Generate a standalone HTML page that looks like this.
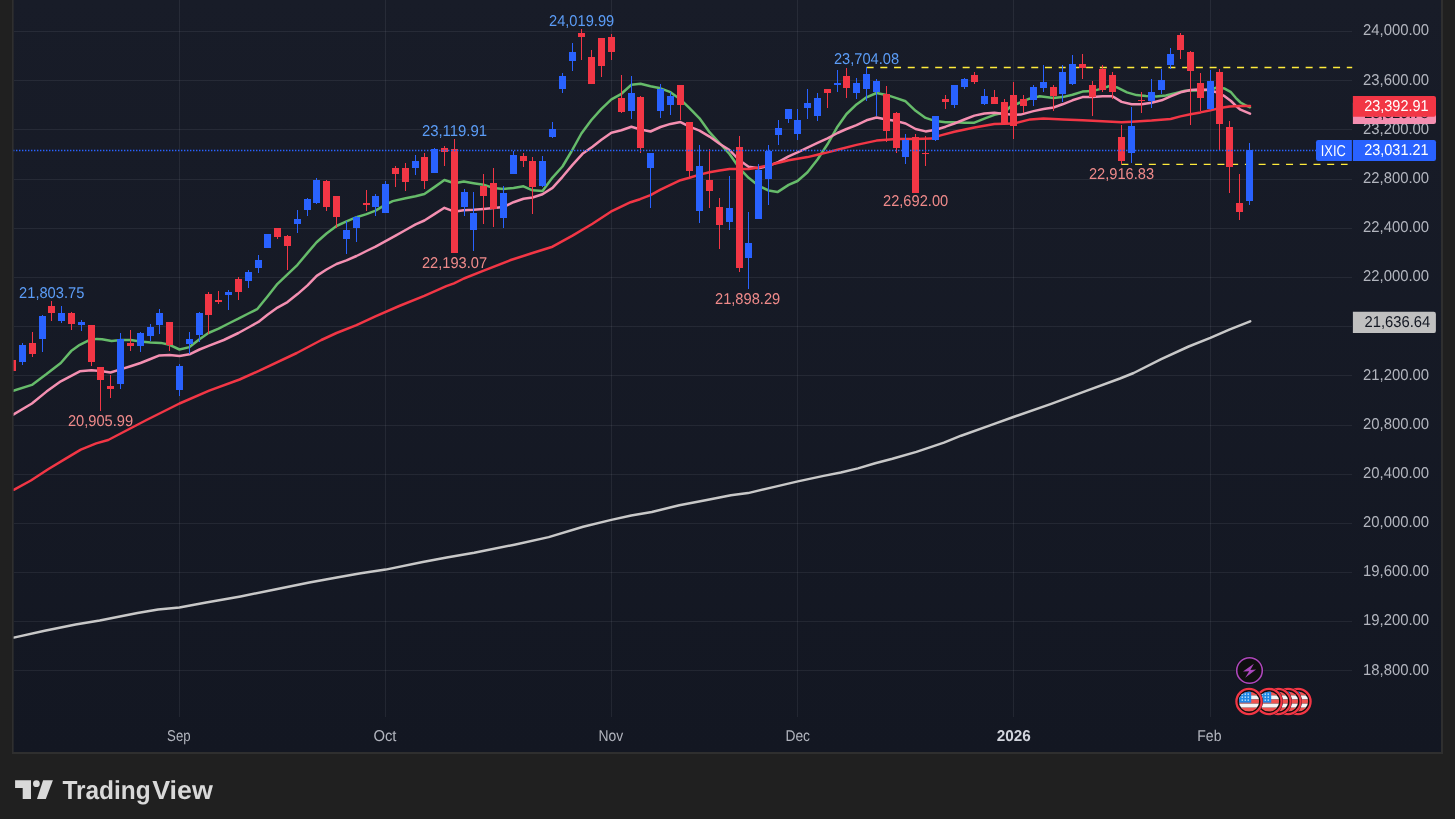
<!DOCTYPE html>
<html lang="en"><head><meta charset="utf-8"><title>IXIC chart</title>
<style>
html,body{margin:0;padding:0;background:#202020;}
body{width:1455px;height:819px;overflow:hidden;position:relative;font-family:"Liberation Sans",sans-serif;}
svg{position:absolute;left:0;top:0;display:block}
text{font-family:"Liberation Sans",sans-serif;text-rendering:geometricPrecision;}
</style></head><body>
<svg width="1455" height="819" viewBox="0 0 1455 819">
<defs>
<linearGradient id="bg" x1="0" y1="0" x2="0" y2="1"><stop offset="0" stop-color="#181c28"/><stop offset="1" stop-color="#131722"/></linearGradient>
<clipPath id="pane"><rect x="13.6" y="0" width="1338.4" height="717"/></clipPath>
<clipPath id="flagclip"><circle cx="0" cy="0" r="10.1"/></clipPath>
</defs>
<rect x="0" y="0" width="1455" height="819" fill="#202020"/>
<rect x="12" y="-2" width="1431" height="756.1" fill="#2f2f2f"/>
<rect x="13.6" y="0" width="1427.4" height="752" fill="url(#bg)"/>

<g shape-rendering="crispEdges" fill="rgba(240,243,250,0.07)">
<rect x="14" y="31" width="1338" height="1"/>
<rect x="14" y="80" width="1338" height="1"/>
<rect x="14" y="129" width="1338" height="1"/>
<rect x="14" y="179" width="1338" height="1"/>
<rect x="14" y="228" width="1338" height="1"/>
<rect x="14" y="277" width="1338" height="1"/>
<rect x="14" y="326" width="1338" height="1"/>
<rect x="14" y="375" width="1338" height="1"/>
<rect x="14" y="425" width="1338" height="1"/>
<rect x="14" y="474" width="1338" height="1"/>
<rect x="14" y="523" width="1338" height="1"/>
<rect x="14" y="572" width="1338" height="1"/>
<rect x="14" y="621" width="1338" height="1"/>
<rect x="14" y="670" width="1338" height="1"/>
<rect x="179" y="0" width="1" height="717"/>
<rect x="385" y="0" width="1" height="717"/>
<rect x="611" y="0" width="1" height="717"/>
<rect x="797" y="0" width="1" height="717"/>
<rect x="1013" y="0" width="1" height="717"/>
<rect x="1210" y="0" width="1" height="717"/>
</g>
<g stroke="#ffeb3b" stroke-width="1.3" stroke-dasharray="7 6.72" fill="none">
<path d="M866.6,67.5 H1352.2"/>
<path d="M1121.4,164.3 H1347.6"/>
</g>
<g clip-path="url(#pane)">
<g fill="none" stroke-width="2.5" stroke-linejoin="round" stroke-linecap="round">
<path d="M13.7,637.6 L44.7,630.7 L75.6,624.5 L99.7,620.4 L137.5,612.9 L158.1,609.4 L179.4,607.4 L206.2,602.5 L240.5,596.4 L274.9,589.5 L309.3,582.6 L336.8,577.5 L360.8,573.3 L385.6,569.6 L422.7,562.0 L446.7,557.5 L474.2,552.7 L514.4,544.7 L548.7,537.1 L583.1,526.8 L611.3,519.9 L631.2,515.5 L651.8,512.0 L679.3,505.2 L706.8,500.0 L730.9,495.2 L748.0,493.1 L775.5,486.6 L797.9,481.4 L823.6,475.9 L840.8,472.5 L858.0,468.4 L875.2,463.2 L892.4,458.8 L916.4,451.9 L943.9,442.6 L961.1,435.7 L989.4,425.6 L1013.4,417.0 L1051.2,403.9 L1085.6,391.2 L1120.0,378.5 L1133.7,373.0 L1161.2,359.2 L1188.7,346.5 L1210.3,337.9 L1229.9,329.3 L1250.2,321.3" stroke="#c8c8c8"/>
<path d="M13.2,390.8 L31.9,384.9 L46.5,374.1 L60.8,363.0 L71.1,351.1 L79.8,344.8 L87.8,340.8 L96.5,338.9 L102.0,339.2 L111.6,341.1 L121.1,340.0 L130.6,340.0 L140.5,341.6 L150.5,342.4 L160.8,342.9 L169.5,344.8 L179.5,349.5 L189.5,347.1 L199.5,339.2 L208.4,333.0 L218.6,328.7 L228.6,323.5 L238.4,318.7 L248.4,313.5 L257.1,309.2 L267.5,296.5 L277.5,283.8 L287.5,274.3 L297.5,264.8 L307.5,252.9 L316.6,242.2 L326.5,233.5 L336.5,226.0 L346.5,221.4 L356.5,217.2 L366.5,214.1 L375.6,210.6 L385.6,204.6 L392.7,201.1 L405.6,198.3 L415.6,196.3 L424.4,194.0 L434.4,187.1 L444.4,180.0 L454.4,183.2 L463.8,181.6 L473.5,183.2 L483.5,184.8 L493.5,187.9 L503.5,189.0 L513.5,187.9 L523.5,186.3 L532.5,190.3 L542.5,191.1 L552.5,177.6 L562.5,166.5 L571.4,151.5 L581.4,133.5 L591.4,120.0 L601.4,108.9 L611.4,99.4 L621.4,93.8 L631.4,84.8 L640.5,83.8 L650.5,86.3 L660.5,88.3 L670.5,92.2 L680.5,99.4 L689.5,108.1 L699.5,118.3 L709.5,132.2 L719.5,143.0 L729.5,154.0 L739.5,168.3 L748.6,177.8 L758.6,185.7 L768.6,190.5 L777.5,192.1 L788.6,184.9 L797.5,181.0 L807.5,172.2 L817.5,159.5 L827.5,144.3 L837.5,126.7 L846.5,114.0 L856.5,104.4 L866.5,97.3 L876.5,93.0 L886.5,94.9 L896.5,98.1 L905.6,101.3 L915.6,110.8 L925.6,117.9 L935.6,121.1 L945.6,122.2 L954.4,122.2 L964.4,122.7 L974.4,122.7 L984.4,118.7 L994.4,114.8 L1004.4,112.5 L1010.0,107.0 L1019.0,103.0 L1029.4,98.7 L1039.7,96.3 L1053.5,97.9 L1062.5,97.1 L1072.5,94.8 L1082.5,91.6 L1092.5,91.1 L1102.5,88.4 L1109.5,86.0 L1117.5,87.6 L1127.0,92.4 L1136.5,95.1 L1146.0,95.9 L1156.3,96.4 L1165.9,95.5 L1175.4,93.1 L1184.9,90.8 L1192.9,90.6 L1200.5,90.6 L1210.5,89.8 L1216.7,87.5 L1224.6,88.6 L1231.0,92.2 L1235.7,97.8 L1240.5,102.5 L1245.2,105.2 L1250.0,107.3" stroke="#66bb6a"/>
<path d="M13.2,414.6 L31.9,403.5 L46.5,391.6 L60.8,381.3 L79.8,371.3 L91.4,370.2 L100.5,371.0 L110.5,372.5 L120.5,369.4 L130.6,366.2 L140.5,363.0 L150.5,359.0 L159.5,355.4 L169.5,355.1 L179.5,355.9 L189.5,354.3 L199.5,349.5 L209.2,345.6 L223.8,340.0 L238.4,333.0 L248.4,327.5 L258.4,321.9 L267.5,314.8 L277.5,307.6 L287.5,302.1 L297.5,294.1 L307.5,285.4 L316.7,275.9 L326.5,269.5 L336.5,264.0 L346.5,260.4 L356.5,256.0 L366.5,251.0 L375.6,246.6 L385.6,241.1 L395.6,235.6 L405.6,230.0 L415.6,224.4 L424.4,220.5 L434.4,214.1 L444.4,207.8 L454.4,211.7 L463.3,210.2 L473.5,209.8 L483.5,208.9 L493.5,208.1 L503.5,207.0 L513.5,202.2 L523.5,198.7 L532.5,197.5 L542.5,194.3 L552.5,187.9 L562.5,176.8 L572.5,164.9 L582.5,153.8 L592.5,146.7 L601.4,139.8 L611.4,132.7 L621.4,130.3 L631.4,126.8 L640.5,129.5 L650.5,131.5 L660.5,127.0 L670.5,123.9 L680.5,122.1 L689.5,126.6 L699.5,130.6 L709.5,136.6 L719.5,143.7 L729.5,150.0 L739.5,160.3 L748.6,166.7 L758.6,168.3 L768.6,165.9 L778.6,161.9 L788.6,156.3 L797.5,152.4 L807.5,147.6 L817.5,142.9 L827.5,138.3 L837.5,133.0 L846.5,129.0 L856.5,125.1 L866.5,120.3 L876.5,117.5 L886.5,119.5 L896.5,121.1 L905.6,123.5 L915.6,129.0 L925.6,131.4 L935.6,129.8 L945.6,126.7 L954.4,123.5 L964.4,119.5 L974.4,115.6 L984.4,113.5 L994.4,112.7 L1004.4,114.0 L1013.5,114.8 L1020.6,114.6 L1033.5,111.1 L1043.5,109.0 L1053.5,107.5 L1062.5,104.3 L1072.5,100.3 L1082.5,97.1 L1092.5,97.1 L1102.5,96.3 L1112.5,96.3 L1121.6,101.9 L1131.6,104.3 L1141.6,104.3 L1151.6,102.8 L1161.6,100.3 L1170.6,96.3 L1180.6,92.3 L1190.6,90.0 L1197.6,89.5 L1207.1,89.8 L1216.7,92.2 L1224.6,96.2 L1231.0,101.0 L1235.7,105.7 L1240.5,109.7 L1245.2,111.7 L1250.0,113.7" stroke="#f48fb1"/>
<path d="M13.7,489.8 L30.9,480.5 L48.1,469.2 L65.3,458.9 L80.8,449.6 L96.2,443.4 L108.2,440.0 L146.5,420.0 L179.5,403.5 L209.2,390.6 L239.6,379.5 L259.4,370.7 L296.8,353.0 L321.4,340.0 L336.5,333.0 L356.5,325.1 L375.4,316.3 L399.2,306.0 L424.3,295.8 L446.3,286.2 L454.0,283.3 L463.9,278.5 L483.7,270.6 L510.0,260.3 L532.5,253.0 L552.5,246.7 L572.5,235.6 L592.5,223.7 L610.8,211.7 L630.6,202.2 L640.0,199.2 L650.5,195.2 L660.5,189.7 L670.5,184.9 L680.5,180.2 L689.5,177.8 L699.5,174.6 L709.5,172.2 L719.5,170.6 L729.5,169.0 L739.5,169.0 L748.6,169.0 L758.6,167.5 L768.6,165.1 L778.6,162.7 L788.6,160.3 L797.5,158.7 L807.5,157.1 L817.5,154.8 L827.5,152.4 L837.5,149.7 L856.5,144.9 L876.5,140.6 L896.5,138.9 L915.6,138.9 L931.1,138.6 L940.6,135.4 L954.4,131.7 L974.4,127.5 L994.4,124.0 L1013.5,123.6 L1030.2,119.4 L1043.5,118.6 L1063.5,119.4 L1082.5,120.2 L1102.5,121.3 L1121.6,122.2 L1131.6,121.7 L1151.6,120.6 L1170.6,119.0 L1180.4,116.4 L1190.5,114.3 L1200.5,112.4 L1210.5,110.2 L1219.8,108.1 L1229.5,106.5 L1239.5,106.0 L1250.0,106.0" stroke="#f23645"/>
</g>
<g shape-rendering="crispEdges">
<rect x="12" y="357" width="1" height="17" fill="#f23645"/><rect x="9" y="360" width="7" height="11" fill="#f23645"/>
<rect x="22" y="343" width="1" height="22" fill="#2962ff"/><rect x="19" y="345" width="7" height="17" fill="#2962ff"/>
<rect x="32" y="332" width="1" height="25" fill="#f23645"/><rect x="29" y="343" width="7" height="11" fill="#f23645"/>
<rect x="42" y="315" width="1" height="37" fill="#2962ff"/><rect x="39" y="316" width="7" height="23" fill="#2962ff"/>
<rect x="51" y="301" width="1" height="20" fill="#f23645"/><rect x="48" y="306" width="7" height="7" fill="#f23645"/>
<rect x="61" y="306" width="1" height="17" fill="#2962ff"/><rect x="58" y="313" width="7" height="8" fill="#2962ff"/>
<rect x="71" y="312" width="1" height="18" fill="#f23645"/><rect x="68" y="313" width="7" height="11" fill="#f23645"/>
<rect x="81" y="320" width="1" height="11" fill="#2962ff"/><rect x="78" y="322" width="7" height="3" fill="#2962ff"/>
<rect x="91" y="325" width="1" height="41" fill="#f23645"/><rect x="88" y="325" width="7" height="37" fill="#f23645"/>
<rect x="100" y="367" width="1" height="44" fill="#f23645"/><rect x="97" y="367" width="7" height="13" fill="#f23645"/>
<rect x="110" y="375" width="1" height="23" fill="#f23645"/><rect x="107" y="386" width="7" height="3" fill="#f23645"/>
<rect x="120" y="333" width="1" height="56" fill="#2962ff"/><rect x="117" y="339" width="7" height="45" fill="#2962ff"/>
<rect x="130" y="330" width="1" height="21" fill="#f23645"/><rect x="127" y="343" width="7" height="3" fill="#f23645"/>
<rect x="140" y="332" width="1" height="20" fill="#2962ff"/><rect x="137" y="333" width="7" height="13" fill="#2962ff"/>
<rect x="150" y="324" width="1" height="17" fill="#2962ff"/><rect x="147" y="327" width="7" height="9" fill="#2962ff"/>
<rect x="159" y="309" width="1" height="25" fill="#2962ff"/><rect x="156" y="313" width="7" height="12" fill="#2962ff"/>
<rect x="169" y="322" width="1" height="29" fill="#f23645"/><rect x="166" y="322" width="7" height="23" fill="#f23645"/>
<rect x="179" y="364" width="1" height="32" fill="#2962ff"/><rect x="176" y="366" width="7" height="24" fill="#2962ff"/>
<rect x="189" y="332" width="1" height="22" fill="#2962ff"/><rect x="186" y="339" width="7" height="5" fill="#2962ff"/>
<rect x="199" y="312" width="1" height="30" fill="#2962ff"/><rect x="196" y="313" width="7" height="22" fill="#2962ff"/>
<rect x="208" y="292" width="1" height="42" fill="#f23645"/><rect x="205" y="294" width="7" height="21" fill="#f23645"/>
<rect x="218" y="291" width="1" height="13" fill="#f23645"/><rect x="215" y="300" width="7" height="2" fill="#f23645"/>
<rect x="228" y="290" width="1" height="20" fill="#2962ff"/><rect x="225" y="292" width="7" height="3" fill="#2962ff"/>
<rect x="238" y="277" width="1" height="23" fill="#f23645"/><rect x="235" y="279" width="7" height="13" fill="#f23645"/>
<rect x="248" y="270" width="1" height="18" fill="#2962ff"/><rect x="245" y="272" width="7" height="9" fill="#2962ff"/>
<rect x="258" y="255" width="1" height="18" fill="#2962ff"/><rect x="255" y="260" width="7" height="8" fill="#2962ff"/>
<rect x="267" y="234" width="1" height="14" fill="#2962ff"/><rect x="264" y="234" width="7" height="14" fill="#2962ff"/>
<rect x="277" y="228" width="1" height="11" fill="#f23645"/><rect x="274" y="228" width="7" height="9" fill="#f23645"/>
<rect x="287" y="235" width="1" height="35" fill="#f23645"/><rect x="284" y="236" width="7" height="10" fill="#f23645"/>
<rect x="297" y="210" width="1" height="23" fill="#2962ff"/><rect x="294" y="219" width="7" height="5" fill="#2962ff"/>
<rect x="307" y="198" width="1" height="18" fill="#2962ff"/><rect x="304" y="199" width="7" height="11" fill="#2962ff"/>
<rect x="316" y="178" width="1" height="26" fill="#2962ff"/><rect x="313" y="180" width="7" height="23" fill="#2962ff"/>
<rect x="326" y="180" width="1" height="31" fill="#f23645"/><rect x="323" y="181" width="7" height="26" fill="#f23645"/>
<rect x="336" y="196" width="1" height="32" fill="#f23645"/><rect x="333" y="196" width="7" height="21" fill="#f23645"/>
<rect x="346" y="221" width="1" height="33" fill="#2962ff"/><rect x="343" y="230" width="7" height="9" fill="#2962ff"/>
<rect x="356" y="216" width="1" height="26" fill="#2962ff"/><rect x="353" y="217" width="7" height="11" fill="#2962ff"/>
<rect x="366" y="190" width="1" height="21" fill="#f23645"/><rect x="363" y="203" width="7" height="2" fill="#f23645"/>
<rect x="375" y="194" width="1" height="22" fill="#2962ff"/><rect x="372" y="196" width="7" height="11" fill="#2962ff"/>
<rect x="385" y="181" width="1" height="32" fill="#2962ff"/><rect x="382" y="184" width="7" height="29" fill="#2962ff"/>
<rect x="395" y="166" width="1" height="21" fill="#f23645"/><rect x="392" y="168" width="7" height="6" fill="#f23645"/>
<rect x="405" y="163" width="1" height="28" fill="#f23645"/><rect x="402" y="168" width="7" height="14" fill="#f23645"/>
<rect x="415" y="155" width="1" height="20" fill="#2962ff"/><rect x="412" y="161" width="7" height="7" fill="#2962ff"/>
<rect x="424" y="153" width="1" height="36" fill="#f23645"/><rect x="421" y="157" width="7" height="24" fill="#f23645"/>
<rect x="434" y="148" width="1" height="25" fill="#2962ff"/><rect x="431" y="149" width="7" height="24" fill="#2962ff"/>
<rect x="444" y="146" width="1" height="20" fill="#f23645"/><rect x="441" y="148" width="7" height="4" fill="#f23645"/>
<rect x="454" y="139" width="1" height="114" fill="#f23645"/><rect x="451" y="149" width="7" height="104" fill="#f23645"/>
<rect x="464" y="189" width="1" height="27" fill="#2962ff"/><rect x="461" y="192" width="7" height="15" fill="#2962ff"/>
<rect x="473" y="192" width="1" height="59" fill="#2962ff"/><rect x="470" y="213" width="7" height="17" fill="#2962ff"/>
<rect x="483" y="174" width="1" height="50" fill="#f23645"/><rect x="480" y="186" width="7" height="10" fill="#f23645"/>
<rect x="493" y="168" width="1" height="59" fill="#f23645"/><rect x="490" y="183" width="7" height="26" fill="#f23645"/>
<rect x="503" y="186" width="1" height="42" fill="#2962ff"/><rect x="500" y="193" width="7" height="25" fill="#2962ff"/>
<rect x="513" y="151" width="1" height="23" fill="#2962ff"/><rect x="510" y="155" width="7" height="19" fill="#2962ff"/>
<rect x="523" y="153" width="1" height="14" fill="#f23645"/><rect x="520" y="156" width="7" height="5" fill="#f23645"/>
<rect x="532" y="157" width="1" height="57" fill="#f23645"/><rect x="529" y="161" width="7" height="26" fill="#f23645"/>
<rect x="542" y="156" width="1" height="31" fill="#2962ff"/><rect x="539" y="161" width="7" height="25" fill="#2962ff"/>
<rect x="552" y="122" width="1" height="16" fill="#2962ff"/><rect x="549" y="129" width="7" height="8" fill="#2962ff"/>
<rect x="562" y="73" width="1" height="20" fill="#2962ff"/><rect x="559" y="76" width="7" height="13" fill="#2962ff"/>
<rect x="572" y="43" width="1" height="28" fill="#2962ff"/><rect x="569" y="52" width="7" height="9" fill="#2962ff"/>
<rect x="581" y="29" width="1" height="31" fill="#f23645"/><rect x="578" y="33" width="7" height="4" fill="#f23645"/>
<rect x="591" y="50" width="1" height="34" fill="#f23645"/><rect x="588" y="57" width="7" height="27" fill="#f23645"/>
<rect x="601" y="38" width="1" height="39" fill="#f23645"/><rect x="598" y="38" width="7" height="28" fill="#f23645"/>
<rect x="611" y="34" width="1" height="26" fill="#f23645"/><rect x="608" y="37" width="7" height="15" fill="#f23645"/>
<rect x="621" y="75" width="1" height="38" fill="#f23645"/><rect x="618" y="98" width="7" height="14" fill="#f23645"/>
<rect x="631" y="76" width="1" height="43" fill="#2962ff"/><rect x="628" y="93" width="7" height="18" fill="#2962ff"/>
<rect x="640" y="96" width="1" height="57" fill="#f23645"/><rect x="637" y="97" width="7" height="51" fill="#f23645"/>
<rect x="650" y="153" width="1" height="55" fill="#2962ff"/><rect x="647" y="153" width="7" height="15" fill="#2962ff"/>
<rect x="660" y="84" width="1" height="34" fill="#2962ff"/><rect x="657" y="89" width="7" height="22" fill="#2962ff"/>
<rect x="670" y="92" width="1" height="23" fill="#2962ff"/><rect x="667" y="96" width="7" height="9" fill="#2962ff"/>
<rect x="680" y="85" width="1" height="35" fill="#f23645"/><rect x="677" y="85" width="7" height="20" fill="#f23645"/>
<rect x="689" y="122" width="1" height="57" fill="#f23645"/><rect x="686" y="122" width="7" height="49" fill="#f23645"/>
<rect x="699" y="145" width="1" height="78" fill="#2962ff"/><rect x="696" y="166" width="7" height="45" fill="#2962ff"/>
<rect x="709" y="149" width="1" height="59" fill="#f23645"/><rect x="706" y="180" width="7" height="11" fill="#f23645"/>
<rect x="719" y="198" width="1" height="51" fill="#f23645"/><rect x="716" y="207" width="7" height="18" fill="#f23645"/>
<rect x="729" y="176" width="1" height="54" fill="#2962ff"/><rect x="726" y="208" width="7" height="14" fill="#2962ff"/>
<rect x="739" y="136" width="1" height="136" fill="#f23645"/><rect x="736" y="147" width="7" height="121" fill="#f23645"/>
<rect x="748" y="212" width="1" height="77" fill="#2962ff"/><rect x="745" y="243" width="7" height="15" fill="#2962ff"/>
<rect x="758" y="164" width="1" height="55" fill="#2962ff"/><rect x="755" y="170" width="7" height="49" fill="#2962ff"/>
<rect x="768" y="145" width="1" height="60" fill="#2962ff"/><rect x="765" y="151" width="7" height="28" fill="#2962ff"/>
<rect x="778" y="120" width="1" height="25" fill="#2962ff"/><rect x="775" y="128" width="7" height="7" fill="#2962ff"/>
<rect x="788" y="109" width="1" height="14" fill="#2962ff"/><rect x="785" y="109" width="7" height="10" fill="#2962ff"/>
<rect x="797" y="109" width="1" height="31" fill="#2962ff"/><rect x="794" y="120" width="7" height="14" fill="#2962ff"/>
<rect x="807" y="89" width="1" height="30" fill="#2962ff"/><rect x="804" y="103" width="7" height="5" fill="#2962ff"/>
<rect x="817" y="93" width="1" height="28" fill="#2962ff"/><rect x="814" y="98" width="7" height="18" fill="#2962ff"/>
<rect x="827" y="89" width="1" height="19" fill="#f23645"/><rect x="824" y="89" width="7" height="4" fill="#f23645"/>
<rect x="837" y="70" width="1" height="22" fill="#2962ff"/><rect x="834" y="83" width="7" height="2" fill="#2962ff"/>
<rect x="846" y="68" width="1" height="30" fill="#f23645"/><rect x="843" y="76" width="7" height="12" fill="#f23645"/>
<rect x="856" y="78" width="1" height="21" fill="#2962ff"/><rect x="853" y="83" width="7" height="10" fill="#2962ff"/>
<rect x="866" y="67" width="1" height="34" fill="#2962ff"/><rect x="863" y="74" width="7" height="15" fill="#2962ff"/>
<rect x="876" y="79" width="1" height="37" fill="#2962ff"/><rect x="873" y="81" width="7" height="11" fill="#2962ff"/>
<rect x="886" y="86" width="1" height="56" fill="#f23645"/><rect x="883" y="94" width="7" height="37" fill="#f23645"/>
<rect x="896" y="112" width="1" height="41" fill="#f23645"/><rect x="893" y="113" width="7" height="35" fill="#f23645"/>
<rect x="905" y="134" width="1" height="30" fill="#2962ff"/><rect x="902" y="140" width="7" height="17" fill="#2962ff"/>
<rect x="915" y="134" width="1" height="59" fill="#f23645"/><rect x="912" y="137" width="7" height="56" fill="#f23645"/>
<rect x="925" y="136" width="1" height="30" fill="#f23645"/><rect x="922" y="153" width="7" height="1" fill="#f23645"/>
<rect x="935" y="116" width="1" height="25" fill="#2962ff"/><rect x="932" y="116" width="7" height="24" fill="#2962ff"/>
<rect x="945" y="95" width="1" height="14" fill="#f23645"/><rect x="942" y="99" width="7" height="3" fill="#f23645"/>
<rect x="954" y="85" width="1" height="23" fill="#2962ff"/><rect x="951" y="85" width="7" height="20" fill="#2962ff"/>
<rect x="964" y="78" width="1" height="11" fill="#2962ff"/><rect x="961" y="79" width="7" height="8" fill="#2962ff"/>
<rect x="974" y="72" width="1" height="12" fill="#f23645"/><rect x="971" y="75" width="7" height="7" fill="#f23645"/>
<rect x="984" y="89" width="1" height="16" fill="#2962ff"/><rect x="981" y="96" width="7" height="8" fill="#2962ff"/>
<rect x="994" y="90" width="1" height="14" fill="#f23645"/><rect x="991" y="97" width="7" height="7" fill="#f23645"/>
<rect x="1004" y="99" width="1" height="25" fill="#f23645"/><rect x="1001" y="102" width="7" height="22" fill="#f23645"/>
<rect x="1013" y="82" width="1" height="57" fill="#f23645"/><rect x="1010" y="95" width="7" height="31" fill="#f23645"/>
<rect x="1023" y="95" width="1" height="18" fill="#f23645"/><rect x="1020" y="99" width="7" height="7" fill="#f23645"/>
<rect x="1033" y="85" width="1" height="21" fill="#2962ff"/><rect x="1030" y="87" width="7" height="13" fill="#2962ff"/>
<rect x="1043" y="65" width="1" height="27" fill="#2962ff"/><rect x="1040" y="82" width="7" height="6" fill="#2962ff"/>
<rect x="1053" y="85" width="1" height="26" fill="#f23645"/><rect x="1050" y="87" width="7" height="9" fill="#f23645"/>
<rect x="1062" y="65" width="1" height="37" fill="#2962ff"/><rect x="1059" y="72" width="7" height="22" fill="#2962ff"/>
<rect x="1072" y="55" width="1" height="30" fill="#2962ff"/><rect x="1069" y="64" width="7" height="20" fill="#2962ff"/>
<rect x="1082" y="54" width="1" height="25" fill="#f23645"/><rect x="1079" y="64" width="7" height="4" fill="#f23645"/>
<rect x="1092" y="81" width="1" height="35" fill="#f23645"/><rect x="1089" y="85" width="7" height="12" fill="#f23645"/>
<rect x="1102" y="65" width="1" height="27" fill="#f23645"/><rect x="1099" y="69" width="7" height="21" fill="#f23645"/>
<rect x="1112" y="72" width="1" height="27" fill="#f23645"/><rect x="1109" y="75" width="7" height="17" fill="#f23645"/>
<rect x="1121" y="125" width="1" height="39" fill="#f23645"/><rect x="1118" y="137" width="7" height="24" fill="#f23645"/>
<rect x="1131" y="107" width="1" height="56" fill="#2962ff"/><rect x="1128" y="126" width="7" height="27" fill="#2962ff"/>
<rect x="1141" y="92" width="1" height="21" fill="#f23645"/><rect x="1138" y="100" width="7" height="1" fill="#f23645"/>
<rect x="1151" y="79" width="1" height="29" fill="#2962ff"/><rect x="1148" y="92" width="7" height="9" fill="#2962ff"/>
<rect x="1161" y="69" width="1" height="25" fill="#2962ff"/><rect x="1158" y="80" width="7" height="10" fill="#2962ff"/>
<rect x="1170" y="48" width="1" height="21" fill="#2962ff"/><rect x="1167" y="54" width="7" height="11" fill="#2962ff"/>
<rect x="1180" y="33" width="1" height="26" fill="#f23645"/><rect x="1177" y="35" width="7" height="15" fill="#f23645"/>
<rect x="1190" y="51" width="1" height="74" fill="#f23645"/><rect x="1187" y="52" width="7" height="19" fill="#f23645"/>
<rect x="1200" y="73" width="1" height="38" fill="#f23645"/><rect x="1197" y="83" width="7" height="15" fill="#f23645"/>
<rect x="1210" y="70" width="1" height="40" fill="#2962ff"/><rect x="1207" y="81" width="7" height="28" fill="#2962ff"/>
<rect x="1219" y="69" width="1" height="81" fill="#f23645"/><rect x="1216" y="72" width="7" height="52" fill="#f23645"/>
<rect x="1229" y="121" width="1" height="72" fill="#f23645"/><rect x="1226" y="127" width="7" height="40" fill="#f23645"/>
<rect x="1239" y="174" width="1" height="46" fill="#f23645"/><rect x="1236" y="203" width="7" height="9" fill="#f23645"/>
<rect x="1249" y="143" width="1" height="62" fill="#2962ff"/><rect x="1246" y="150" width="7" height="51" fill="#2962ff"/>
</g>
<path d="M13,150.5 H1316.6" stroke="#2962ff" stroke-width="1.4" stroke-dasharray="1.4 1.6" fill="none"/>
</g>
<text x="19.1" y="298.2" font-size="15.6" fill="#5b9cf6" textLength="65.2" lengthAdjust="spacingAndGlyphs">21,803.75</text>
<text x="421.9" y="136.1" font-size="15.6" fill="#5b9cf6" textLength="65.2" lengthAdjust="spacingAndGlyphs">23,119.91</text>
<text x="549.0" y="26.0" font-size="15.6" fill="#5b9cf6" textLength="65.2" lengthAdjust="spacingAndGlyphs">24,019.99</text>
<text x="833.9" y="64.2" font-size="15.6" fill="#5b9cf6" textLength="65.2" lengthAdjust="spacingAndGlyphs">23,704.08</text>
<text x="67.9" y="425.8" font-size="15.6" fill="#ef8a8a" textLength="65.2" lengthAdjust="spacingAndGlyphs">20,905.99</text>
<text x="421.9" y="267.5" font-size="15.6" fill="#ef8a8a" textLength="65.2" lengthAdjust="spacingAndGlyphs">22,193.07</text>
<text x="715.0" y="303.8" font-size="15.6" fill="#ef8a8a" textLength="65.2" lengthAdjust="spacingAndGlyphs">21,898.29</text>
<text x="883.0" y="206.0" font-size="15.6" fill="#ef8a8a" textLength="65.2" lengthAdjust="spacingAndGlyphs">22,692.00</text>
<text x="1088.9" y="178.6" font-size="15.6" fill="#ef8a8a" textLength="65.2" lengthAdjust="spacingAndGlyphs">22,916.83</text>
<text x="1363" y="35.4" font-size="15.6" fill="#b2b5be" textLength="66.1" lengthAdjust="spacingAndGlyphs">24,000.00</text>
<text x="1363" y="84.6" font-size="15.6" fill="#b2b5be" textLength="66.1" lengthAdjust="spacingAndGlyphs">23,600.00</text>
<text x="1363" y="133.7" font-size="15.6" fill="#b2b5be" textLength="66.1" lengthAdjust="spacingAndGlyphs">23,200.00</text>
<text x="1363" y="182.9" font-size="15.6" fill="#b2b5be" textLength="66.1" lengthAdjust="spacingAndGlyphs">22,800.00</text>
<text x="1363" y="232.1" font-size="15.6" fill="#b2b5be" textLength="66.1" lengthAdjust="spacingAndGlyphs">22,400.00</text>
<text x="1363" y="281.2" font-size="15.6" fill="#b2b5be" textLength="66.1" lengthAdjust="spacingAndGlyphs">22,000.00</text>
<text x="1363" y="330.4" font-size="15.6" fill="#b2b5be" textLength="66.1" lengthAdjust="spacingAndGlyphs">21,600.00</text>
<text x="1363" y="379.6" font-size="15.6" fill="#b2b5be" textLength="66.1" lengthAdjust="spacingAndGlyphs">21,200.00</text>
<text x="1363" y="428.8" font-size="15.6" fill="#b2b5be" textLength="66.1" lengthAdjust="spacingAndGlyphs">20,800.00</text>
<text x="1363" y="477.9" font-size="15.6" fill="#b2b5be" textLength="66.1" lengthAdjust="spacingAndGlyphs">20,400.00</text>
<text x="1363" y="527.1" font-size="15.6" fill="#b2b5be" textLength="66.1" lengthAdjust="spacingAndGlyphs">20,000.00</text>
<text x="1363" y="576.3" font-size="15.6" fill="#b2b5be" textLength="66.1" lengthAdjust="spacingAndGlyphs">19,600.00</text>
<text x="1363" y="625.4" font-size="15.6" fill="#b2b5be" textLength="66.1" lengthAdjust="spacingAndGlyphs">19,200.00</text>
<text x="1363" y="674.6" font-size="15.6" fill="#b2b5be" textLength="66.1" lengthAdjust="spacingAndGlyphs">18,800.00</text>
<path d="M1352.9,102.7 H1433.8 Q1436.0,102.7 1436.0,104.9 V121.7 Q1436.0,123.9 1433.8,123.9 H1352.9 Z" fill="#f48fb1"/>
<text x="1364.2" y="117.6" font-size="15.6" fill="#131722" textLength="64.4" lengthAdjust="spacingAndGlyphs">23,329.78</text>
<path d="M1352.9,95.9 H1433.8 Q1436.0,95.9 1436.0,98.10000000000001 V114.5 Q1436.0,116.7 1433.8,116.7 H1352.9 Z" fill="#f23645"/>
<text x="1364.2" y="110.8" font-size="15.6" fill="#ffffff" textLength="64.4" lengthAdjust="spacingAndGlyphs">23,392.91</text>
<path d="M1351.9,140 H1318.2 Q1316,140 1316,142.2 V158.8 Q1316,161 1318.2,161 H1351.9 Z" fill="#2962ff"/>
<text x="1320.8" y="155.9" font-size="15.6" fill="#ffffff" textLength="24.9" lengthAdjust="spacingAndGlyphs">IXIC</text>
<path d="M1352.9,140 H1433.8 Q1436.0,140 1436.0,142.2 V158.8 Q1436.0,161 1433.8,161 H1352.9 Z" fill="#2962ff"/>
<text x="1364.2" y="154.9" font-size="15.6" fill="#ffffff" textLength="64.4" lengthAdjust="spacingAndGlyphs">23,031.21</text>
<path d="M1352.9,311.8 H1433.7 Q1435.9,311.8 1435.9,314.0 V330.90000000000003 Q1435.9,333.1 1433.7,333.1 H1352.9 Z" fill="#c0c0c0"/>
<text x="1364.5" y="326.7" font-size="15.6" fill="#131722" textLength="65.8" lengthAdjust="spacingAndGlyphs">21,636.64</text>
<text x="167.1" y="741" font-size="15.6" fill="#b2b5be" textLength="23.5" lengthAdjust="spacingAndGlyphs">Sep</text>
<text x="373.4" y="741" font-size="15.6" fill="#b2b5be" textLength="23.1" lengthAdjust="spacingAndGlyphs">Oct</text>
<text x="598.6" y="741" font-size="15.6" fill="#b2b5be" textLength="24.7" lengthAdjust="spacingAndGlyphs">Nov</text>
<text x="785.4" y="741" font-size="15.6" fill="#b2b5be" textLength="24.6" lengthAdjust="spacingAndGlyphs">Dec</text>
<text x="996.7" y="741" font-weight="bold" font-size="15.6" fill="#d1d4dc" textLength="34.1" lengthAdjust="spacingAndGlyphs">2026</text>
<text x="1197.3" y="741" font-size="15.6" fill="#b2b5be" textLength="24.2" lengthAdjust="spacingAndGlyphs">Feb</text>
<circle cx="1249.5" cy="670.5" r="14" fill="#0f0f0f"/><circle cx="1249.5" cy="670.5" r="12.8" fill="none" stroke="#ab47bc" stroke-width="1.6"/>
<polygon points="1253.89,663.68 1242.95,671.54 1249.19,671.28 1245.17,677.78 1256.11,669.49 1250.38,669.91" fill="#ab47bc"/>
<g transform="translate(1298,701.5)">
<circle r="14" fill="#10131c"/>
<circle r="12.6" fill="#0f0f0f" stroke="#f23645" stroke-width="2.3"/>
<g clip-path="url(#flagclip)">
<rect x="-10" y="-10.2" width="20" height="4.1" fill="#ef5350"/>
<rect x="-10" y="-6.1" width="20" height="4.1" fill="#f5f5f5"/>
<rect x="-10" y="-2" width="20" height="4.1" fill="#ef5350"/>
<rect x="-10" y="2.1" width="20" height="4.1" fill="#f5f5f5"/>
<rect x="-10" y="6.2" width="20" height="4.1" fill="#ef5350"/>
<rect x="-10" y="-10.2" width="12.2" height="11.4" fill="#1e88e5"/>
<g fill="#e3f2fd"><rect x="-7.4" y="-8" width="1.3" height="1.3"/><rect x="-4.4" y="-8" width="1.3" height="1.3"/><rect x="-1.4" y="-8" width="1.3" height="1.3"/><rect x="-7.4" y="-5" width="1.3" height="1.3"/><rect x="-4.4" y="-5" width="1.3" height="1.3"/><rect x="-1.4" y="-5" width="1.3" height="1.3"/><rect x="-7.4" y="-2" width="1.3" height="1.3"/><rect x="-4.4" y="-2" width="1.3" height="1.3"/><rect x="-1.4" y="-2" width="1.3" height="1.3"/></g>
</g>
</g>
<g transform="translate(1288,701.5)">
<circle r="14" fill="#10131c"/>
<circle r="12.6" fill="#0f0f0f" stroke="#f23645" stroke-width="2.3"/>
<g clip-path="url(#flagclip)">
<rect x="-10" y="-10.2" width="20" height="4.1" fill="#ef5350"/>
<rect x="-10" y="-6.1" width="20" height="4.1" fill="#f5f5f5"/>
<rect x="-10" y="-2" width="20" height="4.1" fill="#ef5350"/>
<rect x="-10" y="2.1" width="20" height="4.1" fill="#f5f5f5"/>
<rect x="-10" y="6.2" width="20" height="4.1" fill="#ef5350"/>
<rect x="-10" y="-10.2" width="12.2" height="11.4" fill="#1e88e5"/>
<g fill="#e3f2fd"><rect x="-7.4" y="-8" width="1.3" height="1.3"/><rect x="-4.4" y="-8" width="1.3" height="1.3"/><rect x="-1.4" y="-8" width="1.3" height="1.3"/><rect x="-7.4" y="-5" width="1.3" height="1.3"/><rect x="-4.4" y="-5" width="1.3" height="1.3"/><rect x="-1.4" y="-5" width="1.3" height="1.3"/><rect x="-7.4" y="-2" width="1.3" height="1.3"/><rect x="-4.4" y="-2" width="1.3" height="1.3"/><rect x="-1.4" y="-2" width="1.3" height="1.3"/></g>
</g>
</g>
<g transform="translate(1278,701.5)">
<circle r="14" fill="#10131c"/>
<circle r="12.6" fill="#0f0f0f" stroke="#f23645" stroke-width="2.3"/>
<g clip-path="url(#flagclip)">
<rect x="-10" y="-10.2" width="20" height="4.1" fill="#ef5350"/>
<rect x="-10" y="-6.1" width="20" height="4.1" fill="#f5f5f5"/>
<rect x="-10" y="-2" width="20" height="4.1" fill="#ef5350"/>
<rect x="-10" y="2.1" width="20" height="4.1" fill="#f5f5f5"/>
<rect x="-10" y="6.2" width="20" height="4.1" fill="#ef5350"/>
<rect x="-10" y="-10.2" width="12.2" height="11.4" fill="#1e88e5"/>
<g fill="#e3f2fd"><rect x="-7.4" y="-8" width="1.3" height="1.3"/><rect x="-4.4" y="-8" width="1.3" height="1.3"/><rect x="-1.4" y="-8" width="1.3" height="1.3"/><rect x="-7.4" y="-5" width="1.3" height="1.3"/><rect x="-4.4" y="-5" width="1.3" height="1.3"/><rect x="-1.4" y="-5" width="1.3" height="1.3"/><rect x="-7.4" y="-2" width="1.3" height="1.3"/><rect x="-4.4" y="-2" width="1.3" height="1.3"/><rect x="-1.4" y="-2" width="1.3" height="1.3"/></g>
</g>
</g>
<g transform="translate(1269,701.5)">
<circle r="14" fill="#10131c"/>
<circle r="12.6" fill="#0f0f0f" stroke="#f23645" stroke-width="2.3"/>
<g clip-path="url(#flagclip)">
<rect x="-10" y="-10.2" width="20" height="4.1" fill="#ef5350"/>
<rect x="-10" y="-6.1" width="20" height="4.1" fill="#f5f5f5"/>
<rect x="-10" y="-2" width="20" height="4.1" fill="#ef5350"/>
<rect x="-10" y="2.1" width="20" height="4.1" fill="#f5f5f5"/>
<rect x="-10" y="6.2" width="20" height="4.1" fill="#ef5350"/>
<rect x="-10" y="-10.2" width="12.2" height="11.4" fill="#1e88e5"/>
<g fill="#e3f2fd"><rect x="-7.4" y="-8" width="1.3" height="1.3"/><rect x="-4.4" y="-8" width="1.3" height="1.3"/><rect x="-1.4" y="-8" width="1.3" height="1.3"/><rect x="-7.4" y="-5" width="1.3" height="1.3"/><rect x="-4.4" y="-5" width="1.3" height="1.3"/><rect x="-1.4" y="-5" width="1.3" height="1.3"/><rect x="-7.4" y="-2" width="1.3" height="1.3"/><rect x="-4.4" y="-2" width="1.3" height="1.3"/><rect x="-1.4" y="-2" width="1.3" height="1.3"/></g>
</g>
</g>
<g transform="translate(1249,701.5)">
<circle r="14" fill="#10131c"/>
<circle r="12.6" fill="#0f0f0f" stroke="#f23645" stroke-width="2.3"/>
<g clip-path="url(#flagclip)">
<rect x="-10" y="-10.2" width="20" height="4.1" fill="#ef5350"/>
<rect x="-10" y="-6.1" width="20" height="4.1" fill="#f5f5f5"/>
<rect x="-10" y="-2" width="20" height="4.1" fill="#ef5350"/>
<rect x="-10" y="2.1" width="20" height="4.1" fill="#f5f5f5"/>
<rect x="-10" y="6.2" width="20" height="4.1" fill="#ef5350"/>
<rect x="-10" y="-10.2" width="12.2" height="11.4" fill="#1e88e5"/>
<g fill="#e3f2fd"><rect x="-7.4" y="-8" width="1.3" height="1.3"/><rect x="-4.4" y="-8" width="1.3" height="1.3"/><rect x="-1.4" y="-8" width="1.3" height="1.3"/><rect x="-7.4" y="-5" width="1.3" height="1.3"/><rect x="-4.4" y="-5" width="1.3" height="1.3"/><rect x="-1.4" y="-5" width="1.3" height="1.3"/><rect x="-7.4" y="-2" width="1.3" height="1.3"/><rect x="-4.4" y="-2" width="1.3" height="1.3"/><rect x="-1.4" y="-2" width="1.3" height="1.3"/></g>
</g>
</g>
<g fill="#d9d9d9">
<path d="M15.1,780.3 H31 V799 H22.7 V788.1 H15.1 Z"/>
<circle cx="36.4" cy="783.7" r="3.4"/>
<path d="M43.1,780.3 H52.9 L45.8,799 H37 Z"/>
<text y="799" font-size="26" font-weight="bold"><tspan x="62.4" textLength="88.3" lengthAdjust="spacingAndGlyphs">Trading</tspan><tspan x="152.2" textLength="60.7" lengthAdjust="spacingAndGlyphs">View</tspan></text>
</g>
</svg></body></html>
